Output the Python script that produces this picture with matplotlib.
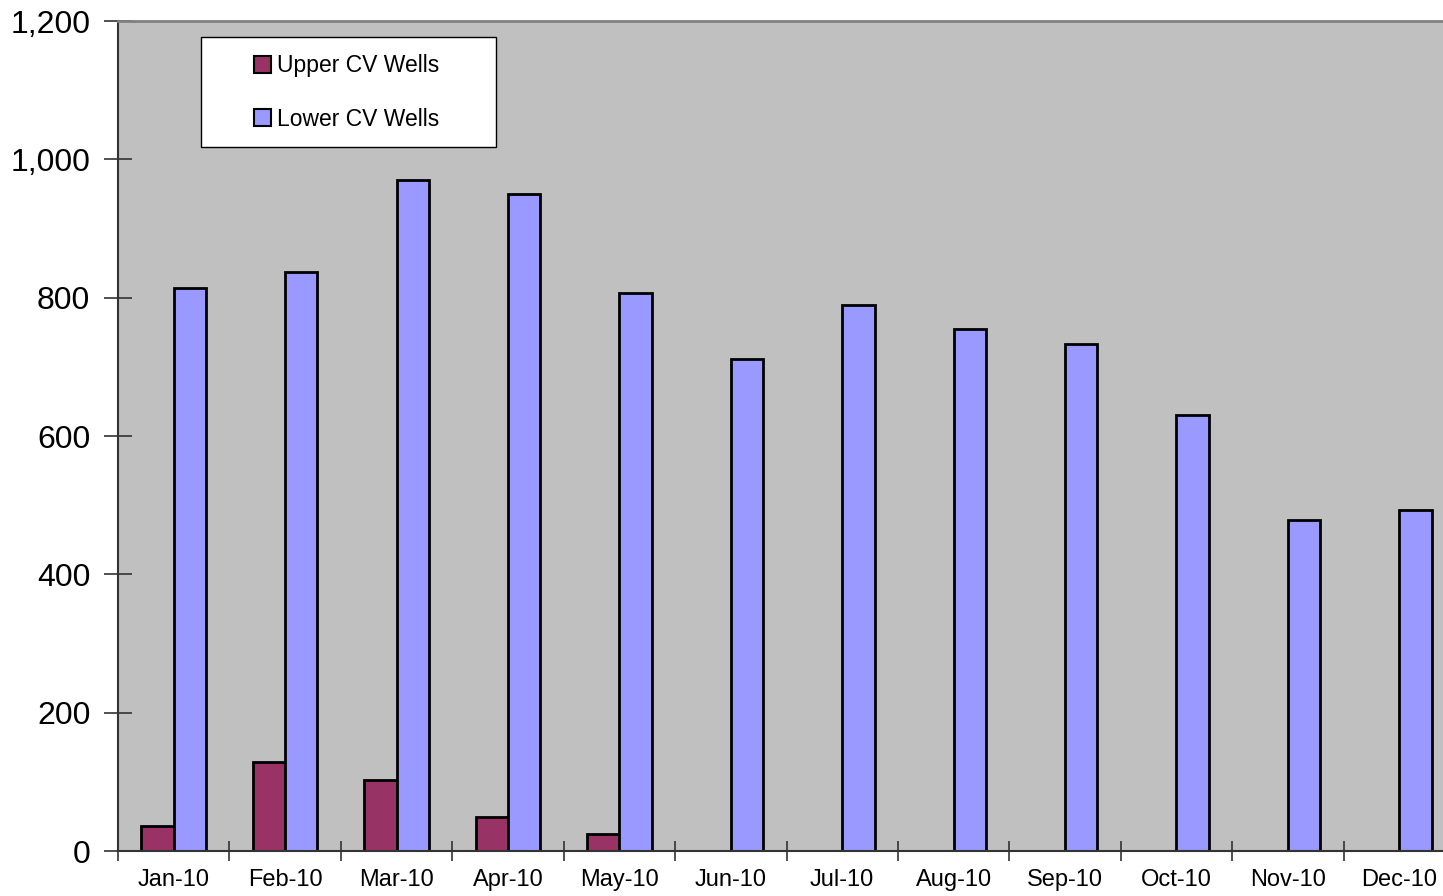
import matplotlib.pyplot as plt
import numpy as np
from matplotlib.patches import Rectangle

months = ['Jan-10', 'Feb-10', 'Mar-10', 'Apr-10', 'May-10', 'Jun-10',
          'Jul-10', 'Aug-10', 'Sep-10', 'Oct-10', 'Nov-10', 'Dec-10']
upper_cv = [36, 129, 103, 49, 25, 0, 0, 0, 0, 0, 0, 0]
lower_cv = [814, 837, 970, 950, 807, 711, 789, 755, 733, 630, 479, 493]

plt.rcParams['font.family'] = ['Liberation Sans', 'DejaVu Sans']

fig = plt.figure(figsize=(14.43, 8.96), dpi=100)
ax = fig.add_axes([0.0818, 0.0502, 0.9265, 0.9263])
ax.set_facecolor('#c0c0c0')

x = np.arange(len(months))
w = 0.29
ax.bar(x - w / 2, upper_cv, w, color='#993366', edgecolor='black', linewidth=2,
       label='Upper CV Wells')
ax.bar(x + w / 2, lower_cv, w, color='#9999ff', edgecolor='black', linewidth=2,
       label='Lower CV Wells')

ax.set_xlim(-0.5, len(months) - 0.5)
ax.set_ylim(0, 1200)
ax.set_yticks(range(0, 1201, 200))
ax.set_yticklabels([f'{v:,}' for v in range(0, 1201, 200)], fontsize=23)

# category ticks sit between the groups, labels in the middle
ax.set_xticks(np.arange(len(months)) - 0.5)
ax.set_xticklabels([])
ax.set_xticks(x, minor=True)
ax.set_xticklabels(months, minor=True, fontsize=17)
ax.tick_params(axis='x', which='minor', length=0, pad=13)
ax.tick_params(axis='x', which='major', direction='inout', length=14, width=1.2, color='#333333')
ax.tick_params(axis='y', direction='inout', length=20, width=1.2, color='#333333', pad=10)

ax.spines['left'].set_color('#333333')
ax.spines['left'].set_linewidth(1.5)
ax.spines['bottom'].set_color('#333333')
ax.spines['bottom'].set_linewidth(1.5)
ax.spines['top'].set_color('#808080')
ax.spines['top'].set_linewidth(2)
ax.spines['right'].set_visible(False)

# legend box drawn separately so the padding can be set per side
ax.add_patch(Rectangle((0.062, 0.848), 0.221, 0.133, transform=ax.transAxes,
                       facecolor='white', edgecolor='black', linewidth=1, zorder=5))
leg = ax.legend(loc='upper left', bbox_to_anchor=(0.095, 0.971), frameon=False,
                fontsize=16.5, handlelength=0.75, handleheight=0.75,
                handletextpad=0.25, labelspacing=1.33, borderaxespad=0)
leg.set_zorder(6)
for h in leg.legend_handles:
    h.set_linewidth(1.5)

fig.savefig('out.png', dpi=100)
